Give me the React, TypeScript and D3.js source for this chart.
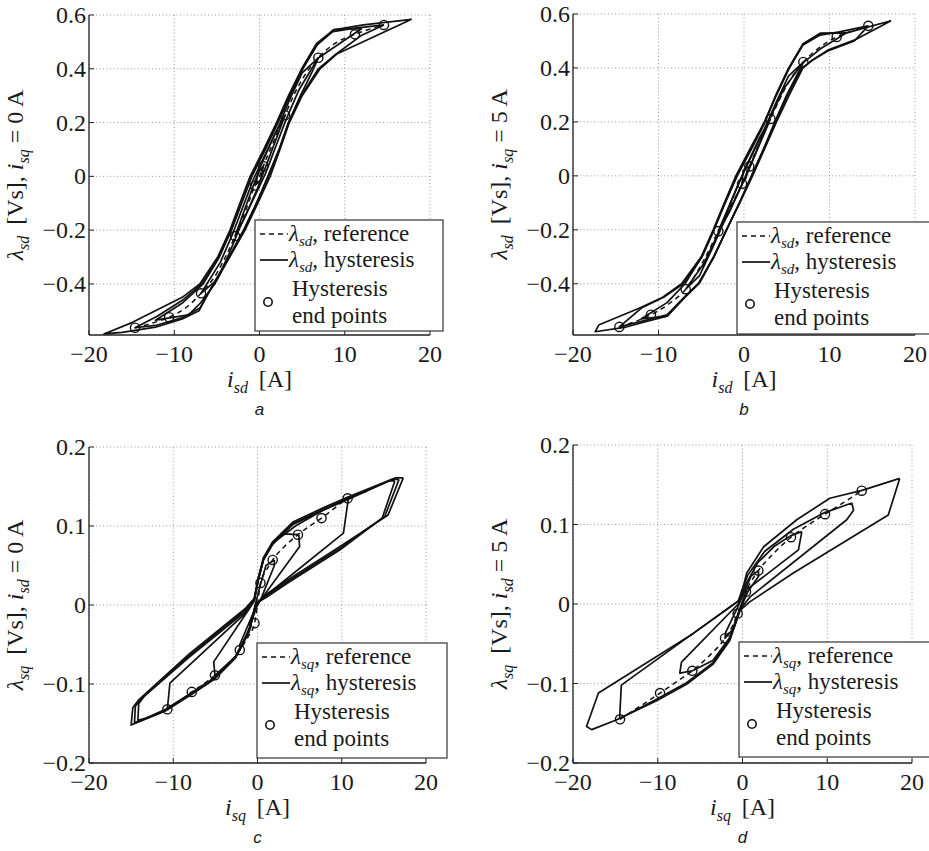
import * as d3 from "d3";

type Pt = [number, number];

const xTicks = [-20, -10, 0, 10, 20];
const yTicksSd = [-0.4, -0.2, 0, 0.2, 0.4, 0.6];
const yTicksSq = [-0.2, -0.1, 0, 0.1, 0.2];

// ---------- panel a : lambda_sd, i_sq = 0 A ----------
const refA: Pt[] = [
  [-14.6, -0.563], [-12.6, -0.546], [-10.6, -0.524], [-8.7, -0.49], [-6.86, -0.435],
  [-5.0, -0.36], [-4.0, -0.3], [-2.87, -0.222], [-1.6, -0.125], [-0.53, -0.034], [0, 0],
  [0.45, 0.038], [1.6, 0.125], [3.0, 0.227], [4.0, 0.3], [5.0, 0.36], [6.9, 0.441],
  [8.9, 0.495], [11.2, 0.528], [12.8, 0.546], [14.6, 0.563],
];
const endA: Pt[] = [
  [14.6, 0.563], [11.2, 0.528], [6.9, 0.441], [3.0, 0.227], [0.45, 0.038],
  [-0.53, -0.034], [-2.87, -0.222], [-6.86, -0.435], [-10.6, -0.524], [-14.6, -0.563],
];
const loopsA: Pt[][] = [
  [
    [17.85, 0.584], [12.2, 0.563], [8.7, 0.545], [6.7, 0.494], [4.95, 0.4], [3.4, 0.3], [2.0, 0.2],
    [0.5, 0.1], [-1.1, 0], [-2.3, -0.1], [-3.46, -0.2], [-4.9, -0.3], [-7.0, -0.4], [-9.06, -0.45],
    [-14.9, -0.543], [-18.24, -0.586],
    [-16.1, -0.58], [-12.2, -0.561], [-9.06, -0.53], [-7.1, -0.5], [-5.4, -0.4], [-3.5, -0.3],
    [-1.7, -0.2], [-0.2, -0.1], [1.25, 0], [2.4, 0.1], [3.5, 0.2], [5.0, 0.3], [7.1, 0.4],
    [9.06, 0.455], [12.6, 0.507], [17.85, 0.584],
  ],
  [
    [14.6, 0.563], [11.0, 0.55], [8.6, 0.538], [6.7, 0.488], [5.0, 0.395], [3.5, 0.295], [2.1, 0.195],
    [0.6, 0.095], [-0.9, 0], [-2.1, -0.1], [-3.3, -0.2], [-4.8, -0.3], [-6.8, -0.4], [-9.0, -0.46],
    [-12.0, -0.52], [-14.6, -0.563],
    [-12.0, -0.553], [-9.0, -0.525], [-7.0, -0.49], [-5.3, -0.395], [-3.5, -0.295], [-1.8, -0.195],
    [-0.3, -0.095], [1.05, 0], [2.3, 0.1], [3.4, 0.2], [4.9, 0.3], [6.9, 0.4], [9.0, 0.455],
    [12.0, 0.525], [14.6, 0.563],
  ],
  [
    [12.0, 0.55], [8.7, 0.546], [6.8, 0.49], [5.0, 0.398], [3.5, 0.298], [2.1, 0.198], [0.6, 0.098],
    [-0.9, 0.002], [-2.1, -0.098], [-3.3, -0.198], [-4.7, -0.3], [-6.6, -0.4], [-9.0, -0.47],
    [-12.2, -0.535],
    [-8.3, -0.515], [-6.9, -0.47], [-5.2, -0.398], [-3.5, -0.298], [-1.8, -0.198], [-0.3, -0.098],
    [1.0, 0.002], [2.3, 0.1], [3.4, 0.2], [4.8, 0.3], [6.2, 0.39], [6.9, 0.44], [12.0, 0.55],
  ],
  [
    [6.9, 0.441], [5.0, 0.385], [3.6, 0.29], [2.3, 0.19], [0.8, 0.09], [-0.7, -0.01], [-1.9, -0.11],
    [-3.1, -0.21], [-4.6, -0.32], [-6.86, -0.435],
    [-5.0, -0.385], [-3.6, -0.29], [-2.3, -0.19], [-0.8, -0.09], [0.7, 0.01], [1.9, 0.11],
    [3.1, 0.21], [4.6, 0.32], [6.9, 0.441],
  ],
  [
    [3.0, 0.227], [1.7, 0.15], [0.3, 0.05], [-0.9, -0.05], [-2.87, -0.222],
    [-1.7, -0.15], [-0.3, -0.05], [0.9, 0.05], [3.0, 0.227],
  ],
  [[0.45, 0.038], [-0.1, 0.015], [-0.53, -0.034], [0.1, -0.015], [0.45, 0.038]],
];

// ---------- panel b : lambda_sd, i_sq = 5 A ----------
const refB: Pt[] = [
  [-14.58, -0.56], [-12.7, -0.54], [-10.88, -0.515], [-8.8, -0.475], [-6.82, -0.42],
  [-5.0, -0.33], [-3.0, -0.205], [-1.6, -0.115], [-0.23, -0.029], [0.2, 0.003], [0.62, 0.035],
  [1.8, 0.12], [3.1, 0.211], [5.0, 0.335], [6.94, 0.422], [8.8, 0.475], [10.84, 0.515],
  [12.7, 0.537], [14.54, 0.556],
];
const endB: Pt[] = [
  [14.54, 0.556], [10.84, 0.515], [6.94, 0.422], [3.1, 0.211], [0.62, 0.035],
  [-0.23, -0.029], [-3.0, -0.205], [-6.82, -0.42], [-10.88, -0.515], [-14.58, -0.56],
];
const loopsB: Pt[][] = [
  [
    [17.2, 0.575], [12.0, 0.53], [8.9, 0.528], [6.9, 0.49], [5.3, 0.4], [3.8, 0.3], [2.4, 0.2],
    [0.7, 0.1], [-0.95, 0], [-2.3, -0.1], [-3.6, -0.2], [-5.0, -0.3], [-7.3, -0.4], [-9.5, -0.45],
    [-12.2, -0.49], [-17.0, -0.553], [-17.4, -0.578],
    [-14.0, -0.562], [-11.4, -0.54], [-9.0, -0.52], [-6.9, -0.45], [-5.35, -0.4], [-3.5, -0.3],
    [-2.05, -0.2], [-0.5, -0.1], [1.0, 0], [2.4, 0.1], [3.8, 0.2], [5.3, 0.3], [6.9, 0.4],
    [8.0, 0.43], [9.8, 0.466], [12.9, 0.503], [17.2, 0.575],
  ],
  [
    [14.54, 0.556], [11.0, 0.533], [8.9, 0.522], [6.9, 0.485], [5.2, 0.395], [3.7, 0.295], [2.4, 0.195],
    [0.8, 0.095], [-0.8, 0], [-2.2, -0.1], [-3.5, -0.2], [-4.9, -0.3], [-7.1, -0.4], [-9.4, -0.45],
    [-12.0, -0.49], [-14.58, -0.56],
    [-11.4, -0.535], [-9.0, -0.515], [-6.9, -0.447], [-5.2, -0.395], [-3.5, -0.297], [-2.0, -0.197],
    [-0.5, -0.097], [0.9, 0], [2.3, 0.1], [3.7, 0.2], [5.1, 0.3], [6.8, 0.4], [8.0, 0.428],
    [9.8, 0.463], [12.9, 0.5], [14.54, 0.556],
  ],
  [
    [12.0, 0.53], [8.9, 0.528], [6.9, 0.488], [5.2, 0.398], [3.7, 0.298], [2.4, 0.198], [0.8, 0.098],
    [-0.8, 0.002], [-2.2, -0.098], [-3.5, -0.198], [-4.9, -0.298], [-6.9, -0.4], [-9.0, -0.47],
    [-12.0, -0.53],
    [-9.0, -0.52], [-6.9, -0.45], [-5.2, -0.398], [-3.5, -0.298], [-2.0, -0.198], [-0.5, -0.098],
    [0.9, 0.002], [2.3, 0.1], [3.6, 0.2], [5.0, 0.3], [6.94, 0.42], [8.9, 0.47], [12.0, 0.53],
  ],
  [
    [6.94, 0.422], [5.2, 0.37], [3.8, 0.275], [2.4, 0.175], [0.9, 0.075], [-0.6, -0.025], [-1.9, -0.125],
    [-3.2, -0.225], [-4.7, -0.325], [-6.82, -0.42],
    [-5.2, -0.37], [-3.8, -0.275], [-2.4, -0.175], [-0.9, -0.075], [0.6, 0.025], [1.9, 0.125],
    [3.2, 0.225], [4.7, 0.325], [6.94, 0.422],
  ],
  [
    [3.1, 0.211], [1.8, 0.14], [0.4, 0.045], [-0.9, -0.05], [-3.0, -0.205],
    [-1.8, -0.14], [-0.4, -0.045], [0.9, 0.05], [3.1, 0.211],
  ],
  [[0.62, 0.035], [-0.1, 0.02], [-0.23, -0.029], [0.2, -0.01], [0.62, 0.035]],
];

// ---------- panel c : lambda_sq, i_sd = 0 A ----------
const refC: Pt[] = [
  [-10.7, -0.132], [-9.2, -0.121], [-7.8, -0.11], [-6.4, -0.1], [-5.05, -0.089], [-3.5, -0.075],
  [-2.1, -0.057], [-1.1, -0.04], [-0.35, -0.023], [0, 0], [0.35, 0.028], [1.0, 0.043], [1.8, 0.057],
  [3.2, 0.074], [4.8, 0.089], [6.2, 0.1], [7.6, 0.11], [9.2, 0.123], [10.7, 0.135], [13.0, 0.144],
];
const endC: Pt[] = [
  [10.7, 0.135], [7.6, 0.11], [4.8, 0.089], [1.8, 0.057], [0.35, 0.028],
  [-0.35, -0.023], [-2.1, -0.057], [-5.05, -0.089], [-7.8, -0.11], [-10.7, -0.132],
];
const loopsC: Pt[][] = [
  [
    [17.3, 0.161], [16.4, 0.161], [10.8, 0.137], [7.6, 0.122], [4.2, 0.105], [1.8, 0.08], [0.7, 0.06],
    [0.1, 0.035], [-0.4, 0.008], [-1.4, -0.004], [-8.1, -0.062], [-14.1, -0.12], [-14.8, -0.13],
    [-15.0, -0.152], [-13.9, -0.147], [-10.9, -0.134], [-7.8, -0.113], [-5.0, -0.093], [-2.6, -0.067],
    [-1.0, -0.034], [-0.2, 0.0], [1.1, 0.014], [3.9, 0.034], [9.8, 0.074], [15.5, 0.114], [17.3, 0.161],
  ],
  [
    [16.8, 0.159], [16.0, 0.159], [10.8, 0.135], [7.6, 0.12], [4.2, 0.103], [1.8, 0.078], [0.7, 0.058],
    [0.1, 0.033], [-0.4, 0.006], [-1.4, -0.006], [-8.1, -0.064], [-13.7, -0.118], [-14.5, -0.128],
    [-14.6, -0.149], [-13.6, -0.145], [-10.9, -0.133], [-7.8, -0.112], [-5.0, -0.092], [-2.6, -0.066],
    [-1.0, -0.033], [-0.2, 0.001], [1.1, 0.012], [3.9, 0.032], [9.8, 0.072], [15.1, 0.112], [16.8, 0.159],
  ],
  [
    [16.3, 0.157], [15.6, 0.157], [10.8, 0.134], [7.6, 0.119], [4.2, 0.102], [1.8, 0.077], [0.7, 0.057],
    [0.1, 0.032], [-0.4, 0.005], [-1.4, -0.008], [-8.1, -0.066], [-13.4, -0.115], [-14.1, -0.125],
    [-14.2, -0.146], [-13.2, -0.143], [-10.9, -0.132], [-7.8, -0.111], [-5.0, -0.091], [-2.6, -0.065],
    [-1.0, -0.032], [-0.2, 0.002], [1.1, 0.01], [3.9, 0.03], [9.8, 0.07], [14.8, 0.11], [16.3, 0.157],
  ],
  [
    [10.8, 0.136], [7.6, 0.119], [4.5, 0.1], [1.8, 0.078], [0.7, 0.058], [0.1, 0.033], [-0.4, 0.006],
    [-1.2, -0.008], [-10.4, -0.099], [-10.7, -0.132], [-7.8, -0.112], [-5.0, -0.092], [-2.6, -0.066],
    [-1.0, -0.033], [-0.2, 0.0], [1.0, 0.012], [10.2, 0.091], [10.8, 0.136],
  ],
  [
    [4.9, 0.089], [3.0, 0.09], [1.8, 0.077], [0.7, 0.057], [0.1, 0.032], [-0.4, 0.005], [-1.0, -0.005],
    [-5.2, -0.072], [-5.05, -0.089], [-2.6, -0.065], [-1.0, -0.032], [-0.2, 0.0], [0.7, 0.011],
    [5.0, 0.074], [4.9, 0.089],
  ],
  [
    [2.0, 0.057], [1.0, 0.05], [0.2, 0.02], [-0.5, -0.01], [-2.1, -0.05], [-2.1, -0.057],
    [-1.0, -0.03], [-0.2, -0.005], [0.5, 0.01], [2.0, 0.05], [2.0, 0.057],
  ],
];

// ---------- panel d : lambda_sq, i_sd = 5 A ----------
const refD: Pt[] = [
  [-14.45, -0.145], [-12.0, -0.128], [-9.73, -0.112], [-7.8, -0.098], [-5.92, -0.084], [-4.0, -0.066],
  [-2.06, -0.043], [-1.2, -0.028], [-0.57, -0.012], [0, 0], [0.41, 0.0155], [1.0, 0.028], [1.87, 0.042],
  [3.8, 0.065], [5.72, 0.084], [7.7, 0.099], [9.74, 0.113], [12.0, 0.128], [14.07, 0.1425],
];
const endD: Pt[] = [
  [14.07, 0.1425], [9.74, 0.113], [5.72, 0.084], [1.87, 0.042], [0.41, 0.0155],
  [-0.57, -0.012], [-2.06, -0.043], [-5.92, -0.084], [-9.73, -0.112], [-14.45, -0.145],
];
const loopsD: Pt[][] = [
  [
    [18.55, 0.158], [14.1, 0.143], [10.3, 0.133], [6.4, 0.106], [2.5, 0.072], [0.5, 0.039],
    [-0.3, 0.005], [-5.8, -0.037], [-17.0, -0.112], [-18.4, -0.154], [-17.8, -0.158], [-14.9, -0.146],
    [-10.2, -0.122], [-6.6, -0.101], [-3.5, -0.076], [-1.5, -0.046], [-0.3, -0.008], [0.9, 0.003],
    [6.0, 0.039], [17.2, 0.112], [18.55, 0.158],
  ],
  [
    [12.9, 0.127], [9.7, 0.115], [6.0, 0.094], [2.6, 0.066], [0.6, 0.036], [-0.5, 0.004],
    [-14.3, -0.102], [-14.5, -0.144], [-10.2, -0.12], [-6.6, -0.099], [-3.5, -0.074], [-1.5, -0.044],
    [-0.3, -0.007], [0.9, 0.009], [12.3, 0.106], [13.1, 0.118], [12.9, 0.127],
  ],
  [
    [7.0, 0.091], [5.7, 0.086], [3.8, 0.073], [1.8, 0.052], [0.4, 0.025], [-0.5, 0.0],
    [-7.2, -0.073], [-7.4, -0.087], [-5.9, -0.084], [-3.5, -0.071], [-1.5, -0.042], [-0.3, -0.005],
    [0.5, 0.018], [6.6, 0.068], [7.0, 0.091],
  ],
  [
    [1.87, 0.042], [1.0, 0.035], [0.2, 0.015], [-0.6, -0.005], [-2.0, -0.036], [-2.06, -0.043],
    [-1.0, -0.03], [-0.2, -0.005], [0.6, 0.015], [1.9, 0.035], [1.87, 0.042],
  ],
];

type PanelCfg = {
  caption: string;
  l: number; t: number; r: number; b: number;
  yDom: [number, number];
  yTicks: number[];
  lam: string; cur: string; curVal: string; xSub: string;
  ref: Pt[]; loops: Pt[][]; ends: Pt[];
  legend: { x: number; y: number; w: number; h: number };
};

const panels: PanelCfg[] = [
  { caption: "a", l: 89, t: 15, r: 430, b: 335, yDom: [-0.59, 0.6], yTicks: yTicksSd,
    lam: "sd", cur: "sq", curVal: "0", xSub: "sd", ref: refA, loops: loopsA, ends: endA,
    legend: { x: 255, y: 220, w: 188, h: 111 } },
  { caption: "b", l: 573, t: 14, r: 915, b: 335, yDom: [-0.59, 0.6], yTicks: yTicksSd,
    lam: "sd", cur: "sq", curVal: "5", xSub: "sd", ref: refB, loops: loopsB, ends: endB,
    legend: { x: 737, y: 222, w: 200, h: 112 } },
  { caption: "c", l: 89, t: 447, r: 426, b: 763, yDom: [-0.2, 0.2], yTicks: yTicksSq,
    lam: "sq", cur: "sd", curVal: "0", xSub: "sq", ref: refC, loops: loopsC, ends: endC,
    legend: { x: 257, y: 643, w: 190, h: 115 } },
  { caption: "d", l: 573, t: 445, r: 912, b: 763, yDom: [-0.2, 0.2], yTicks: yTicksSq,
    lam: "sq", cur: "sd", curVal: "5", xSub: "sq", ref: refD, loops: loopsD, ends: endD,
    legend: { x: 739, y: 642, w: 200, h: 115 } },
];

const SERIF = "Liberation Serif, DejaVu Serif, serif";
const FS = 24;
const LFS = 23;
const SUB = 15;
const INK = "#1a1a1a";

const fmt = (v: number) => (v < 0 ? "\u2212" : "") + String(Math.abs(Math.round(v * 10) / 10));

function Panel({ p }: { p: PanelCfg }) {
  const x = d3.scaleLinear().domain([-20, 20]).range([p.l, p.r]);
  const y = d3.scaleLinear().domain(p.yDom).range([p.b, p.t]);
  const line = d3.line<Pt>().x((d) => x(d[0])).y((d) => y(d[1]));
  const refLine = d3
    .line<Pt>()
    .x((d) => x(d[0]))
    .y((d) => y(d[1]))
    .curve(d3.curveMonotoneX);
  const lg = p.legend;
  const cy = (p.t + p.b) / 2;
  const txt = { fontFamily: SERIF, fontSize: FS, fill: INK } as const;
  const ltxt = { fontFamily: SERIF, fontSize: LFS, fill: INK } as const;

  return (
    <g>
      {/* grid */}
      {xTicks.map((t) => (
        <line key={"gx" + t} x1={x(t)} x2={x(t)} y1={p.t} y2={p.b}
          stroke="#9a9a9a" strokeWidth={1} strokeDasharray="1,2.5" />
      ))}
      {p.yTicks.map((t) => (
        <line key={"gy" + t} x1={p.l} x2={p.r} y1={y(t)} y2={y(t)}
          stroke="#9a9a9a" strokeWidth={1} strokeDasharray="1,2.5" />
      ))}
      {/* axes */}
      <line x1={p.l} x2={p.r} y1={p.b} y2={p.b} stroke="#222" strokeWidth={1.3} />
      <line x1={p.l} x2={p.l} y1={p.t} y2={p.b} stroke="#222" strokeWidth={1.3} />
      {xTicks.map((t) => (
        <line key={"tx" + t} x1={x(t)} x2={x(t)} y1={p.b} y2={p.b - 5} stroke="#222" />
      ))}
      {p.yTicks.map((t) => (
        <line key={"ty" + t} x1={p.l} x2={p.l + 5} y1={y(t)} y2={y(t)} stroke="#222" />
      ))}
      {/* tick labels */}
      {xTicks.map((t) => (
        <text key={"lx" + t} x={x(t)} y={p.b + 27} textAnchor="middle" style={txt}>{fmt(t)}</text>
      ))}
      {p.yTicks.map((t) => (
        <text key={"ly" + t} x={p.l - 3} y={y(t) + 8} textAnchor="end" style={txt}>{fmt(t)}</text>
      ))}
      {/* axis labels */}
      <text x={x(0)} y={p.b + 52} textAnchor="middle" style={txt}>
        <tspan fontStyle="italic">i</tspan>
        <tspan fontStyle="italic" fontSize={SUB + 1} dy={6}>{p.xSub}</tspan>
        <tspan dy={-6}>{"\u2009 [A]"}</tspan>
      </text>
      <text transform={`translate(${p.l - 66},${cy}) rotate(-90)`} textAnchor="middle" style={txt}>
        <tspan fontStyle="italic">λ</tspan>
        <tspan fontStyle="italic" fontSize={SUB + 1} dy={6}>{p.lam}</tspan>
        <tspan dy={-6}>{"\u2009 [Vs], "}</tspan>
        <tspan fontStyle="italic">i</tspan>
        <tspan fontStyle="italic" fontSize={SUB + 1} dy={6}>{p.cur}</tspan>
        <tspan dy={-6}>{` = ${p.curVal} A`}</tspan>
      </text>
      {/* curves */}
      {p.loops.map((lp, i) => (
        <path key={"lp" + i} d={line(lp) ?? ""} fill="none" stroke="#111"
          strokeWidth={1.7} strokeLinejoin="round" />
      ))}
      <path d={refLine(p.ref) ?? ""} fill="none" stroke="#111" strokeWidth={1.5} strokeDasharray="5,4" />
      {p.ends.map((e, i) => (
        <circle key={"c" + i} cx={x(e[0])} cy={y(e[1])} r={4.6} fill="none" stroke="#111" strokeWidth={1.4} />
      ))}
      {/* legend */}
      <rect x={lg.x} y={lg.y} width={lg.w} height={lg.h} fill="#fff" stroke="#333" strokeWidth={1.2} />
      <line x1={lg.x + 5} x2={lg.x + 33} y1={lg.y + 14} y2={lg.y + 14} stroke="#111" strokeWidth={1.5} strokeDasharray="5,4" />
      <line x1={lg.x + 5} x2={lg.x + 33} y1={lg.y + 40} y2={lg.y + 40} stroke="#111" strokeWidth={1.7} />
      <circle cx={lg.x + 13} cy={lg.y + 82} r={4.2} fill="none" stroke="#111" strokeWidth={1.6} />
      <text x={lg.x + 34} y={lg.y + 21} style={ltxt}>
        <tspan fontStyle="italic">λ</tspan>
        <tspan fontStyle="italic" fontSize={SUB} dy={5}>{p.lam}</tspan>
        <tspan dy={-5}>, reference</tspan>
      </text>
      <text x={lg.x + 34} y={lg.y + 47} style={ltxt}>
        <tspan fontStyle="italic">λ</tspan>
        <tspan fontStyle="italic" fontSize={SUB} dy={5}>{p.lam}</tspan>
        <tspan dy={-5}>, hysteresis</tspan>
      </text>
      <text x={lg.x + 37} y={lg.y + 76} style={ltxt}>Hysteresis</text>
      <text x={lg.x + 37} y={lg.y + 103} style={ltxt}>end points</text>
      {/* caption */}
      <text x={x(0)} y={p.b + 80} textAnchor="middle"
        style={{ fontFamily: "Liberation Sans, Arial, sans-serif", fontStyle: "italic", fontSize: 17, fill: INK }}>
        {p.caption}
      </text>
    </g>
  );
}

export default function App() {
  return (
    <svg width={929} height={851} style={{ position: "absolute", left: 0, top: 0, background: "#fff" }}>
      {panels.map((p) => (
        <Panel key={p.caption} p={p} />
      ))}
    </svg>
  );
}
